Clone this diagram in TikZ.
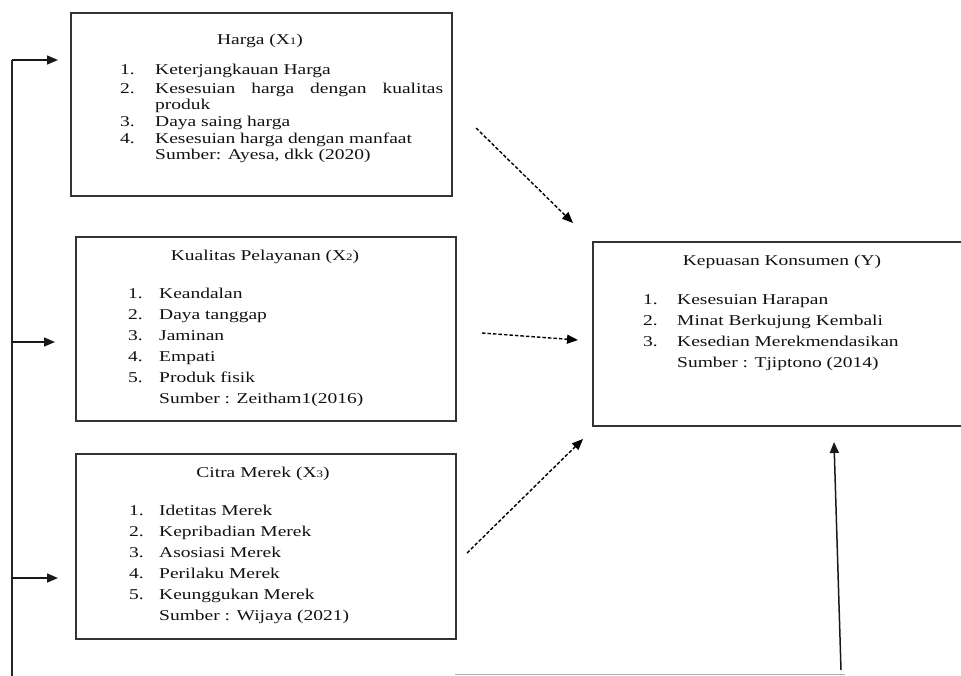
\documentclass[tikz,border=0pt]{standalone}
\usepackage{fontspec}
\setmainfont{Liberation Serif}[FakeStretch=1.3]
\usetikzlibrary{arrows.meta}
\definecolor{boxc}{HTML}{333333}
\definecolor{txtc}{HTML}{111111}
\newcommand{\inum}[2]{\makebox[#1][l]{#2}}
\newcommand{\sbs}[1]{{\fontsize{10}{10}\selectfont #1}}
\begin{document}
\begin{tikzpicture}[x=1pt,y=-1pt,
  box/.style={draw=boxc, line width=1.2pt, inner sep=0pt, rectangle},
  txt/.style={anchor=base west, inner sep=0pt, font=\fontsize{15}{17}\selectfont, text=txtc},
  ttl/.style={anchor=base, inner sep=0pt, font=\fontsize{15}{17}\selectfont, text=txtc},
  solidarr/.style={draw=black!90, line width=1.5pt, -{Triangle[length=11pt,width=9pt]}},
  dasharr/.style={draw=black, line width=1.4pt, dash pattern=on 3.5pt off 2pt, -{Triangle[length=11pt,width=9pt]}},
  plainline/.style={draw=black!85, line width=1.4pt}
]
\useasboundingbox (0,0) rectangle (961,675);
\clip (0,0) rectangle (961,675);

% boxes
\node[box, minimum width=381pt, minimum height=183pt] (x1) at (261.5,104.5) {};
\node[box, minimum width=380pt, minimum height=184pt] (x2) at (266,329) {};
\node[box, minimum width=380pt, minimum height=185pt] (x3) at (266,546.5) {};
\node[box, minimum width=378pt, minimum height=184pt] (y) at (782,334) {};

% X1 text
\node[ttl] (t1) at (260,44) {Harga (X\sbs{1})};
\node[txt] (x1a) at (120,74) {\inum{35pt}{1.}Keterjangkauan Harga};
\node[txt] (x1b) at (120,93) {\inum{35pt}{2.}\hbox to 288pt{Kesesuian\hfill harga\hfill dengan\hfill kualitas}};
\node[txt] (x1c) at (155,109) {produk};
\node[txt] (x1d) at (120,126) {\inum{35pt}{3.}Daya saing harga};
\node[txt] (x1e) at (120,143) {\inum{35pt}{4.}Kesesuian harga dengan manfaat};
\node[txt] (x1f) at (155,159) {Sumber: Ayesa, dkk (2020)};

% X2 text
\node[ttl] (t2) at (265,260.5) {Kualitas Pelayanan (X\sbs{2})};
\node[txt] (x2a) at (128,298.5) {\inum{31pt}{1.}Keandalan};
\node[txt] (x2b) at (128,319.5) {\inum{31pt}{2.}Daya tanggap};
\node[txt] (x2c) at (128,340.5) {\inum{31pt}{3.}Jaminan};
\node[txt] (x2d) at (128,361.5) {\inum{31pt}{4.}Empati};
\node[txt] (x2e) at (128,382.5) {\inum{31pt}{5.}Produk fisik};
\node[txt] (x2f) at (159,403.5) {Sumber : Zeitham1(2016)};

% X3 text
\node[ttl] (t3) at (263,477.5) {Citra Merek (X\sbs{3})};
\node[txt] (x3a) at (129,515.5) {\inum{30pt}{1.}Idetitas Merek};
\node[txt] (x3b) at (129,536.5) {\inum{30pt}{2.}Kepribadian Merek};
\node[txt] (x3c) at (129,557.5) {\inum{30pt}{3.}Asosiasi Merek};
\node[txt] (x3d) at (129,578.5) {\inum{30pt}{4.}Perilaku Merek};
\node[txt] (x3e) at (129,599.5) {\inum{30pt}{5.}Keunggukan Merek};
\node[txt] (x3f) at (159,620.5) {Sumber : Wijaya (2021)};

% Y text
\node[ttl] (ty) at (782,265.5) {Kepuasan Konsumen (Y)};
\node[txt] (ya) at (643,304) {\inum{34pt}{1.}Kesesuian Harapan};
\node[txt] (yb) at (643,325) {\inum{34pt}{2.}Minat Berkujung Kembali};
\node[txt] (yc) at (643,346) {\inum{34pt}{3.}Kesedian Merekmendasikan};
\node[txt] (yd) at (677,367) {Sumber : Tjiptono (2014)};

% connector end points
\coordinate (d1s) at (476,128);
\coordinate (d1e) at (573,223);
\coordinate (d2s) at (482,333);
\coordinate (d2e) at (578,340);
\coordinate (d3s) at (467,553);
\coordinate (d3e) at (583,439);
\coordinate (ups) at (841,670);
\coordinate (upe) at (834,442);
\coordinate (vtop) at (12,60);
\coordinate (vbot) at (12,680);
\coordinate (v2) at (12,342);
\coordinate (v3) at (12,578);
\coordinate (h1e) at (58,60);
\coordinate (h2e) at (55,342);
\coordinate (h3e) at (58,578);
\coordinate (gl) at (455,674.5);
\coordinate (gr) at (845,674.5);

% connectors
\draw[dasharr] (d1s) -- (d1e);
\draw[dasharr] (d2s) -- (d2e);
\draw[dasharr] (d3s) -- (d3e);
\draw[solidarr] (ups) -- (upe);
\draw[plainline] (vtop) -- (vbot);
\draw[solidarr] (vtop) -- (h1e);
\draw[solidarr] (v2) -- (h2e);
\draw[solidarr] (v3) -- (h3e);
\draw[draw=black!30, line width=1pt] (gl) -- (gr);
\end{tikzpicture}
\end{document}
